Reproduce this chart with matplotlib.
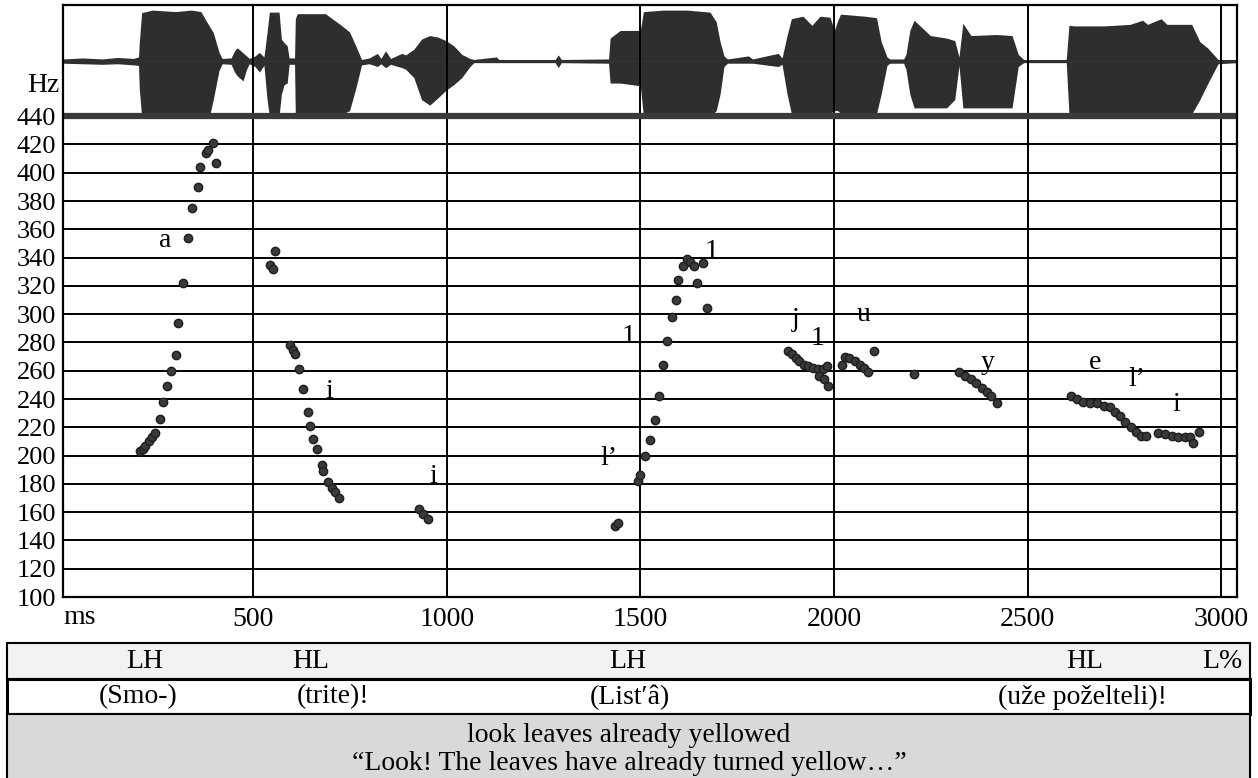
import matplotlib.pyplot as plt
from matplotlib.patches import Rectangle

plt.rcParams['font.family'] = ['Liberation Serif', 'DejaVu Serif']

# F0 track (time in ms, pitch in Hz)
f0_ms = [208, 215, 222, 230, 239, 247, 260, 266, 277, 288, 301, 307, 319, 333, 343, 357, 363, 378, 384, 397, 405,
         544, 552, 557, 596, 603, 608, 619, 628, 641, 646, 655, 666, 678, 681, 694, 704, 712, 722,
         929, 940, 952,
         1435, 1443, 1495, 1500, 1513, 1526, 1539, 1549, 1559, 1569, 1582, 1592, 1597, 1610, 1620, 1628, 1638, 1646, 1661, 1672,
         1882, 1892, 1901, 1909, 1922, 1934, 1947, 1960, 1973, 1981, 1962, 1975, 1985,
         2021, 2029, 2039, 2055, 2068, 2078, 2089, 2104,
         2207,
         2324, 2339, 2355, 2368, 2383, 2396, 2406, 2422,
         2613, 2628, 2644, 2662, 2680, 2697, 2712, 2727, 2740, 2753, 2766, 2779, 2792, 2805,
         2837, 2855, 2873, 2889, 2907, 2920, 2928, 2943]
f0_hz = [203, 205, 207, 210, 213, 216, 226, 238, 249, 260, 271, 294, 322, 354, 375, 390, 404, 414, 416, 421, 407,
         335, 332, 345, 278, 275, 272, 261, 247, 231, 221, 212, 205, 193, 189, 181, 177, 174, 170,
         162, 159, 155,
         150, 152, 182, 186, 200, 211, 225, 242, 264, 281, 298, 310, 324, 334, 339, 337, 334, 322, 336, 304,
         274, 272, 269, 267, 264, 263, 262, 261, 261, 263, 256, 254, 249,
         264, 270, 269, 267, 264, 262, 259, 274,
         258,
         259, 256, 254, 251, 248, 245, 242, 237,
         242, 240, 238, 237, 237, 235, 234, 231, 228, 224, 220, 217, 214, 214,
         216, 215, 214, 213, 213, 213, 209, 217]

# segment labels
seg_text = ['a', 'i', 'i', 'l’', '1', '1', 'j', '1', 'u', 'y', 'e', 'l’', 'i']
seg_ms = [273, 697, 966, 1418, 1469, 1685, 1900, 1957, 2076, 2396, 2675, 2783, 2884]
seg_hz = [352, 245, 185, 198, 284, 344, 296, 283, 300, 266, 266, 254, 236]

# oscillogram envelope: upper / lower excursion as share of the full swing
wave_ms = [9, 60, 110, 150, 190, 204, 206, 212, 240, 300, 340, 365, 381, 389, 397, 412, 420,
           443, 452, 459, 474, 483, 490, 505, 516, 528, 536, 542, 567, 573, 580, 588, 593,
           607, 609, 614, 687, 697, 728, 749, 765, 780, 800, 821, 830, 842, 855, 884, 894,
           915, 935, 956, 977, 998, 1018, 1039, 1060, 1070, 1128, 1135, 1280, 1288, 1296,
           1418, 1422, 1448, 1500, 1508, 1560, 1620, 1680, 1696, 1706, 1716, 1725, 1779, 1790,
           1856, 1866, 1879, 1890, 1920, 1943, 1964, 1990, 2001, 2010, 2017, 2080, 2110, 2122,
           2137, 2144, 2180, 2186, 2196, 2207, 2228, 2249, 2291, 2312, 2323, 2333, 2354, 2420,
           2460, 2476, 2490, 2600, 2607, 2620, 2700, 2765, 2797, 2810, 2845, 2860, 2924, 2945,
           2966, 2992, 3041]
wave_up = [.04, .06, .04, .07, .05, .08, .36, .95, 1.0, .97, 1.0, .97, .76, .66, .56, .17, .05,
           .06, .2, .26, .16, .1, .05, .1, .17, .08, .56, .96, .96, .43, .36, .3, .06,
           .06, .83, .93, .93, .87, .7, .57, .3, .03, .06, .15, .05, .2, .05, .15, .12,
           .23, .43, .5, .47, .4, .3, .13, .05, .03, .08, .03, .03, .12, .03,
           .04, .45, .6, .6, .97, 1.0, 1.0, .96, .77, .38, .1, .04, .1, .04,
           .15, .06, .5, .83, .88, .7, .88, .86, .6, .8, .92, .88, .85, .38,
           .08, .04, .04, .13, .6, .8, .65, .5, .45, .4, .08, .74, .5, .52,
           .5, .13, .03, .03, .7, .69, .69, .72, .8, .72, .83, .72, .72, .38,
           .25, .03, .03]
wave_dn = [.04, .05, .06, .05, .07, .08, .5, 1.0, 1.0, 1.0, 1.0, 1.0, 1.0, .95, .7, .17, .05,
           .06, .2, .27, .36, .15, .05, .1, .2, .08, .7, 1.0, 1.0, .6, .43, .4, .06,
           .06, 1.0, 1.0, 1.0, 1.0, .97, .9, .5, .07, .05, .1, .05, .12, .06, .12, .15,
           .3, .7, .8, .67, .53, .43, .3, .1, .03, .03, .03, .03, .12, .03,
           .04, .4, .4, .45, 1.0, 1.0, 1.0, 1.0, .9, .6, .1, .04, .04, .04,
           .1, .06, .6, .95, .95, .95, .95, .95, .9, .9, .95, .95, .95, .6,
           .08, .04, .04, .15, .6, .85, .85, .85, .85, .7, .08, .85, .85, .85,
           .85, .1, .03, .03, .96, .96, .96, .96, .96, .96, .96, .96, .96, .7,
           .4, .05, .03]

hz_ticks = list(range(100, 441, 20))
ms_ticks = [500, 1000, 1500, 2000, 2500, 3000]

tones = ['LH', 'HL', 'LH', 'HL', 'L%']
words = ['(Smo-)', '(trite)!', '(List′â)', '(uže poželteli)!']
gloss = 'look leaves already yellowed'
translation = '“Look! The leaves have already turned yellow…”'

W, H = 1258, 778
fig = plt.figure(figsize=(W / 100, H / 100), dpi=100)
ax = fig.add_axes([63 / W, 181 / H, 1174 / W, 592 / H])
ax.set_xlim(9, 3041)
ax.set_ylim(100, 518.6)

# oscillogram strip above the 440 Hz line
mid = 479
ax.fill_between(wave_ms, [mid + 36 * u for u in wave_up], [mid - 39 * d for d in wave_dn],
                color='#2e2e2e', lw=0, zorder=1)
ax.axhline(mid, color='#333333', lw=1.0, zorder=1)

ax.set_xticks(ms_ticks)
ax.set_yticks(hz_ticks)
ax.grid(True, color='black', lw=1.4)
ax.axhline(440, color='#3a3a3a', lw=4.5, zorder=2.5)
for s in ax.spines.values():
    s.set_linewidth(1.6)
ax.tick_params(length=0)
ax.tick_params(axis='y', labelsize=19, pad=5)
ax.tick_params(axis='x', labelsize=20, pad=7)

ax.plot(f0_ms, f0_hz, 'o', color='#3a3a3a', mec='#1e1e1e', ms=6, zorder=4)
for t, x, y in zip(seg_text, seg_ms, seg_hz):
    ax.text(x, y, t, ha='center', va='center', fontsize=20, zorder=5)

fig.text(80 / W, 1 - 618 / H, 'ms', ha='center', va='center', fontsize=20)
fig.text(43 / W, 1 - 86 / H, 'Hz', ha='center', va='center', fontsize=20)

# annotation table under the plot, laid out in pixel units
tax = fig.add_axes([0, 0, 1, 1])
tax.set_xlim(0, W)
tax.set_ylim(H, 0)
tax.axis('off')
tax.add_patch(Rectangle((7, 643), 1243, 36, fc='#f2f2f2', ec='black', lw=1.5))
tax.add_patch(Rectangle((7, 679), 1243, 35, fc='white', ec='black', lw=2.2))
tax.add_patch(Rectangle((7, 714), 1243, 70, fc='#d9d9d9', ec='black', lw=1.5, clip_on=False))

tone_x = [145, 311, 628, 1085, 1222]
word_x = [138, 333, 630, 1082]
for t, x in zip(tones, tone_x):
    tax.text(x, 662, t, ha='center', va='center', fontsize=20)
for t, x in zip(words, word_x):
    tax.text(x, 697, t, ha='center', va='center', fontsize=20)
tax.text(629, 735, gloss, ha='center', va='center', fontsize=20)
tax.text(629, 763, translation, ha='center', va='center', fontsize=20)

fig.savefig('out.png', dpi=100)
